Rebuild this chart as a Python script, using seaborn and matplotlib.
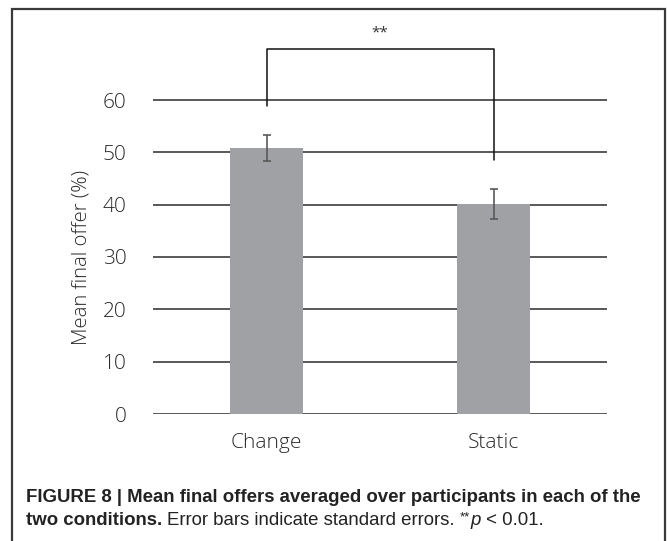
import numpy as np
import pandas as pd
import matplotlib.pyplot as plt
import seaborn as sns
from matplotlib.patches import Rectangle

conditions = ['Change', 'Static']
mean_offer = [50.9, 40.1]
std_err = [2.5, 2.9]
y_ticks = [0, 10, 20, 30, 40, 50, 60]
sig_label = '**'

df = pd.DataFrame({'cond': conditions, 'offer': mean_offer})

sns.set_style('white')
plt.rcParams['font.family'] = ['Open Sans', 'DejaVu Sans']

fig = plt.figure(figsize=(6.67, 5.41), dpi=100)
ax = fig.add_axes([153 / 667, (541 - 414) / 541, 454 / 667, 392.5 / 541])

# gridlines behind the bars
for t in y_ticks:
    ax.axhline(t, color='#2b2b2b', lw=1.1, zorder=0)

sns.barplot(data=df, x='cond', y='offer', width=0.32, color='#a0a1a5',
            saturation=1, linewidth=0, ax=ax, zorder=2)
ax.errorbar(range(len(conditions)), mean_offer, yerr=std_err, fmt='none',
            ecolor='#5a5a5a', elinewidth=1.2, capsize=3, capthick=1.2, zorder=3)

# significance bracket
top = 69.7
legs = [m + e + 5.5 for m, e in zip(mean_offer, std_err)]
ax.plot([0, 0, 1, 1], [legs[0], top, top, legs[1]], color='#111111', lw=1.1,
        clip_on=False, zorder=4)
ax.text(0.5, top + 1.6, sig_label, ha='center', va='bottom', fontsize=11,
        color='#333333')

ax.set_xlim(-0.5, 1.5)
ax.set_ylim(0, 75)
ax.set_yticks(y_ticks)
ax.set_yticklabels([str(t) for t in y_ticks])
ax.set_xlabel('')
ax.set_ylabel('Mean final offer (%)', fontsize=14.6, color='#2a2a2a',
              fontweight='light')
# centre the label on the 0-60 span, as in the original
ax.yaxis.set_label_coords(-0.136, (y_ticks[-1] / 2) / 75)
ax.tick_params(axis='both', length=0, labelsize=15, labelcolor='#2a2a2a')
ax.tick_params(axis='y', pad=19)
ax.tick_params(axis='x', pad=14)
for lab in ax.get_xticklabels() + ax.get_yticklabels():
    lab.set_fontweight('light')
sns.despine(ax=ax, left=True, bottom=True)
ax.patch.set_alpha(0)

# outer frame
fig.patches.append(Rectangle((12 / 667, -0.05), 653 / 667, 1.05 - 9 / 541,
                             transform=fig.transFigure, fill=False,
                             edgecolor='#3a3a3a', lw=1.6))

# caption
cap = dict(family=['Liberation Sans', 'DejaVu Sans'], fontsize=13.4,
           color='#222222', va='baseline')
x0 = 26 / 667
fig.text(x0, 1 - 501.5 / 541,
         'FIGURE 8 | Mean final offers averaged over participants in each of the',
         fontweight='bold', **cap)
fig.canvas.draw()
r = fig.canvas.get_renderer()
x = x0
y2 = 1 - 525 / 541
pieces = [('two conditions. ', 'bold', 'normal'),
          ('Error bars indicate standard errors. ', 'normal', 'normal'),
          ('**', 'normal', 'normal'),
          ('p', 'normal', 'italic'),
          (' < 0.01.', 'normal', 'normal')]
for txt, w, st in pieces:
    yy = y2 + (0.008 if txt == '**' else 0)
    fs = 9.5 if txt == '**' else cap['fontsize']
    kw = dict(cap, fontsize=fs)
    t = fig.text(x, yy, txt, fontweight=w, fontstyle=st, **kw)
    bb = t.get_window_extent(renderer=r)
    x += bb.width / fig.bbox.width

fig.savefig('out.png', dpi=100)
